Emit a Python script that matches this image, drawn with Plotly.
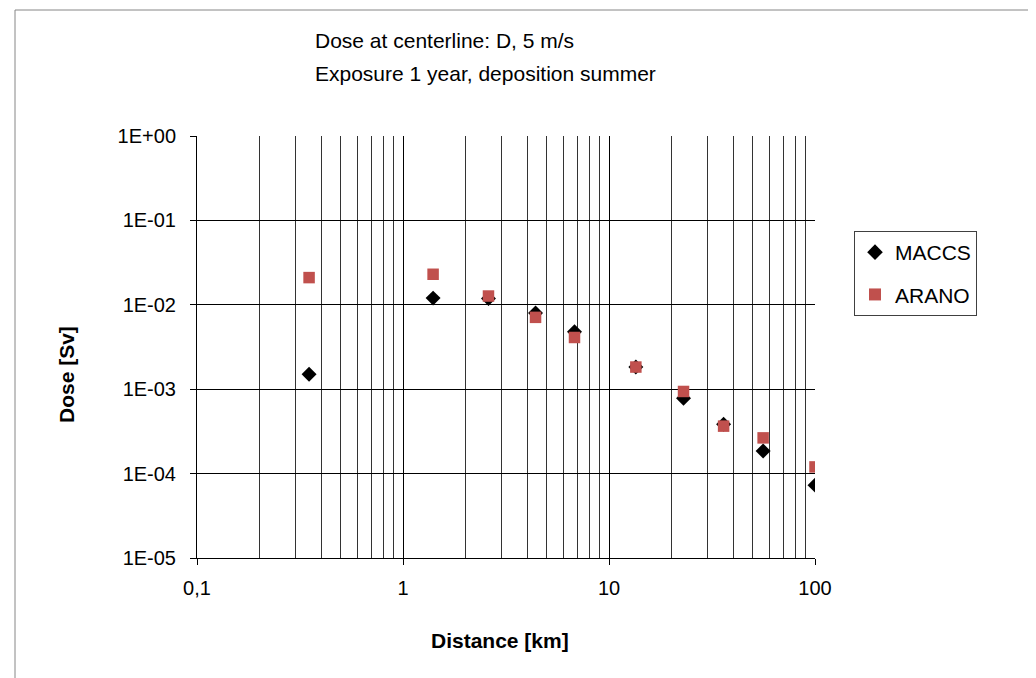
import plotly.graph_objects as go

# Data
distance_km = [0.35, 1.4, 2.6, 4.4, 6.8, 13.5, 23, 36, 56, 100]
dose_maccs = [1.5e-3, 1.2e-2, 1.19e-2, 8.0e-3, 4.8e-3, 1.83e-3, 7.8e-4, 3.85e-4, 1.85e-4, 7.3e-5]
dose_arano = [2.1e-2, 2.3e-2, 1.27e-2, 7.1e-3, 4.1e-3, 1.83e-3, 9.4e-4, 3.65e-4, 2.65e-4, 1.2e-4]

x_tickvals = [0.1, 1, 10, 100]
x_ticktext = ["0,1", "1", "10", "100"]
y_tickvals = [1e0, 1e-1, 1e-2, 1e-3, 1e-4, 1e-5]
y_ticktext = ["1E+00", "1E-01", "1E-02", "1E-03", "1E-04", "1E-05"]
x_minor = [m * 10.0 ** e for e in (-1, 0, 1) for m in range(2, 10)]

title_lines = ["Dose at centerline: D, 5 m/s", "Exposure 1 year, deposition summer"]

W, H = 1036, 678
L, R, T, B = 189, 807, 128, 550
FONT = "Liberation Sans, Arial, sans-serif"


def px(xp):
    return (xp - L) / (R - L)


def py(yp):
    return (B - yp) / (B - T)


fig = go.Figure()
fig.add_trace(go.Scatter(
    x=distance_km, y=dose_maccs, mode="markers", name="MACCS",
    legendgroup="a",
    marker=dict(symbol="diamond", size=11.5, color="black", line=dict(width=0)),
))
fig.add_trace(go.Scatter(
    x=distance_km, y=dose_arano, mode="markers", name="ARANO",
    legendgroup="b",
    marker=dict(symbol="square", size=11.5, color="#C0504D", line=dict(width=0)),
))

fig.update_layout(
    width=W, height=H,
    margin=dict(l=L, r=W - R, t=T, b=H - B, pad=0),
    paper_bgcolor="white", plot_bgcolor="white",
    font=dict(family=FONT, size=20, color="black"),
    showlegend=True,
    legend=dict(
        x=px(846), y=py(223), xanchor="left", yanchor="top",
        bordercolor="#404040", borderwidth=1, bgcolor="white",
        font=dict(family=FONT, size=21, color="black"),
        traceorder="grouped", tracegroupgap=12, itemsizing="constant",
        itemwidth=30,
    ),
    xaxis=dict(
        type="log", range=[-1, 2],
        tickvals=x_tickvals, ticktext=x_ticktext,
        showgrid=True, gridcolor="black", gridwidth=1,
        showline=True, linecolor="black", linewidth=1,
        ticks="outside", ticklen=6, tickcolor="black",
        ticklabelstandoff=6,
        tickfont=dict(family=FONT, size=20, color="black"),
        minor=dict(tickvals=x_minor, showgrid=True, gridcolor="#333333", gridwidth=1, ticks=""),
        zeroline=False,
    ),
    yaxis=dict(
        type="log", range=[-5, 0],
        tickvals=y_tickvals, ticktext=y_ticktext,
        showgrid=True, gridcolor="black", gridwidth=1,
        showline=True, linecolor="black", linewidth=1,
        ticks="outside", ticklen=6, tickcolor="black",
        ticklabelstandoff=10,
        tickfont=dict(family=FONT, size=20, color="black"),
        zeroline=False,
    ),
    shapes=[
        dict(type="rect", xref="paper", yref="paper",
             x0=px(7), x1=px(1045), y0=py(690), y1=py(2),
             line=dict(color="#868686", width=1), fillcolor="rgba(0,0,0,0)", layer="below"),
    ],
    annotations=[
        dict(text=title_lines[0], xref="paper", yref="paper", x=px(305), y=py(32),
             xanchor="left", yanchor="middle", showarrow=False,
             font=dict(family=FONT, size=21, color="black")),
        dict(text=title_lines[1], xref="paper", yref="paper", x=px(305), y=py(66),
             xanchor="left", yanchor="middle", showarrow=False,
             font=dict(family=FONT, size=21, color="black")),
        dict(text="<b>Distance [km]</b>", xref="paper", yref="paper", x=px(492), y=py(632),
             xanchor="center", yanchor="middle", showarrow=False,
             font=dict(family=FONT, size=21, color="black")),
        dict(text="<b>Dose [Sv]</b>", xref="paper", yref="paper", x=px(58), y=py(367),
             xanchor="center", yanchor="middle", showarrow=False, textangle=-90,
             font=dict(family=FONT, size=21, color="black")),
    ],
)

fig.write_html("out.html")
